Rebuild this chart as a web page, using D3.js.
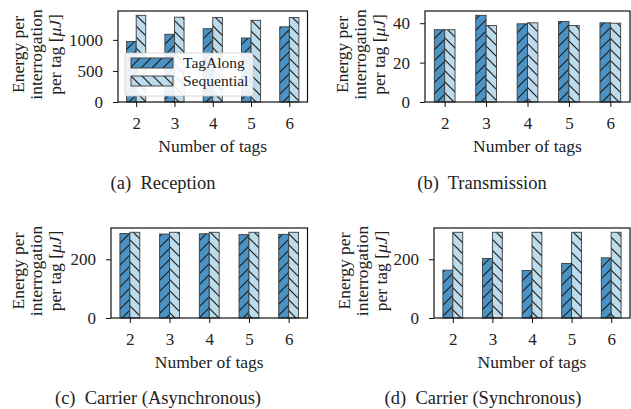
<!DOCTYPE html>
<html><head><meta charset="utf-8">
<script src="https://cdn.jsdelivr.net/npm/d3@7"></script>
<style>
html,body{margin:0;padding:0;background:#fff;}
svg{display:block;}
text{font-family:"Liberation Serif",serif;fill:#222;}
</style></head>
<body>
<svg id="chart" width="631" height="409"></svg>
<script>
const tags = [2, 3, 4, 5, 6];
const seriesNames = ["TagAlong", "Sequential"];
// (a) Reception
const receptionTagAlong   = [975, 1090, 1180, 1030, 1210];
const receptionSequential = [1395, 1365, 1360, 1315, 1360];
// (b) Transmission
const transmissionTagAlong   = [36.7, 44.0, 39.7, 40.9, 40.2];
const transmissionSequential = [36.7, 38.8, 40.2, 38.8, 40.0];
// (c) Carrier (Asynchronous)
const asyncTagAlong   = [288, 286, 287, 284, 285];
const asyncSequential = [292, 292, 292, 292, 292];
// (d) Carrier (Synchronous)
const syncTagAlong   = [163, 203, 162, 186, 205];
const syncSequential = [292, 292, 292, 292, 292];
// tick labels
const ticksA = [0, 500, 1000];
const ticksB = [0, 20, 40];
const ticksC = [0, 200];
const ticksD = [0, 200];
const captions = ["(a)  Reception", "(b)  Transmission", "(c)  Carrier (Asynchronous)", "(d)  Carrier (Synchronous)"];
const xLabel = "Number of tags";
const yLabelLines = [["Energy per"], ["interrogation"], ["per tag [", "\u03bcJ", "]"]];

const colors = ["#4a93c4", "#bcdcec"];

const svg = d3.select("#chart");
const defs = svg.append("defs");
function hatch(id, color, dir) {
  const s = 11;
  const p = defs.append("pattern").attr("id", id).attr("patternUnits", "userSpaceOnUse")
    .attr("width", s).attr("height", s);
  p.append("rect").attr("width", s).attr("height", s).attr("fill", color);
  const g = p.append("g").attr("stroke", "#1e1e1e").attr("stroke-width", 1.2);
  if (dir > 0) {
    g.append("line").attr("x1", 0).attr("y1", s).attr("x2", s).attr("y2", 0);
    g.append("line").attr("x1", -s/2).attr("y1", s/2).attr("x2", s/2).attr("y2", -s/2);
    g.append("line").attr("x1", s/2).attr("y1", s*1.5).attr("x2", s*1.5).attr("y2", s/2);
  } else {
    g.append("line").attr("x1", 0).attr("y1", 0).attr("x2", s).attr("y2", s);
    g.append("line").attr("x1", -s/2).attr("y1", s/2).attr("x2", s/2).attr("y2", s*1.5);
    g.append("line").attr("x1", s/2).attr("y1", -s/2).attr("x2", s*1.5).attr("y2", s/2);
  }
}
hatch("h0", colors[0], 1);
hatch("h1", colors[1], -1);

const panels = [
  {ta: receptionTagAlong, sq: receptionSequential, ticks: ticksA, box: [118, 307.5, 11, 102], ylx: 36, cap: [163, 189], legend: true},
  {ta: transmissionTagAlong, sq: transmissionSequential, ticks: ticksB, box: [425, 630, 11, 102], ylx: 360, cap: [482, 189]},
  {ta: asyncTagAlong, sq: asyncSequential, ticks: ticksC, box: [111, 307.5, 228, 318], ylx: 36, cap: [158, 404]},
  {ta: syncTagAlong, sq: syncSequential, ticks: ticksD, box: [434, 630, 228, 318], ylx: 362, cap: [483, 404]},
];
const bw = 0.25;

panels.forEach((P, i) => {
  const [L, R, T, B] = P.box;
  const x = d3.scaleLinear().domain([tags[0] - bw - 0.225, tags[tags.length-1] + bw + 0.225]).range([L, R]);
  const ymax = d3.max(P.ta.concat(P.sq)) * 1.05;
  const y = d3.scaleLinear().domain([0, ymax]).range([B, T]);
  const g = svg.append("g");

  const bars = [];
  tags.forEach((t, k) => {
    bars.push({x0: t - bw, v: P.ta[k], s: 0});
    bars.push({x0: t, v: P.sq[k], s: 1});
  });
  g.selectAll("rect.bar").data(bars).join("rect").attr("class", "bar")
    .attr("x", d => x(d.x0)).attr("width", d => x(d.x0 + bw) - x(d.x0))
    .attr("y", d => y(d.v)).attr("height", d => y(0) - y(d.v))
    .attr("fill", d => `url(#h${d.s})`).attr("stroke", "#3a3a3a").attr("stroke-width", 0.9);

  // frame
  g.append("rect").attr("x", L).attr("y", T).attr("width", R - L).attr("height", B - T)
    .attr("fill", "none").attr("stroke", "#111").attr("stroke-width", 1.2);

  const xa = g.append("g").attr("transform", `translate(0,${B})`)
    .call(d3.axisBottom(x).tickValues(tags).tickSize(5).tickPadding(10).tickFormat(d3.format("d")));
  const ya = g.append("g").attr("transform", `translate(${L},0)`)
    .call(d3.axisLeft(y).tickValues(P.ticks).tickSize(5).tickPadding(10).tickFormat(d3.format("d")));
  [xa, ya].forEach(a => {
    a.select(".domain").remove();
    a.selectAll(".tick line").attr("stroke", "#111").attr("stroke-width", 1);
    a.selectAll(".tick text").attr("font-family", "Liberation Serif").attr("font-size", 17).attr("fill", "#222");
  });

  g.append("text").attr("x", (L + R) / 2).attr("y", B + 49.5).attr("text-anchor", "middle")
    .attr("font-size", 17.5).text(xLabel);

  const yl = g.append("text").attr("transform", `translate(${P.ylx},${(T + B) / 2 - 2}) rotate(-90)`)
    .attr("text-anchor", "middle").attr("font-size", 17.5);
  yLabelLines.forEach((parts, j) => {
    const line = yl.append("tspan").attr("x", 0).attr("y", (j - 1) * 18.5 + 6);
    line.text(parts[0]);
    if (parts.length > 1) {
      yl.append("tspan").attr("font-style", "italic").text(parts[1]);
      yl.append("tspan").text(parts[2]);
    }
  });

  g.append("text").attr("x", P.cap[0]).attr("y", P.cap[1]).attr("text-anchor", "middle")
    .attr("font-size", 18.5).style("white-space", "pre").attr("xml:space", "preserve").text(captions[i]);

  if (P.legend) {
    const lg = g.append("g");
    lg.append("rect").attr("x", 125).attr("y", 53).attr("width", 128).attr("height", 43).attr("rx", 2)
      .attr("fill", "#fff").attr("fill-opacity", 0.9).attr("stroke", "#ccc").attr("stroke-width", 0.8);
    seriesNames.forEach((n, j) => {
      const yy = 58 + j * 18;
      lg.append("rect").attr("x", 131).attr("y", yy).attr("width", 42).attr("height", 10)
        .attr("fill", `url(#h${j})`).attr("stroke", "#3a3a3a").attr("stroke-width", 0.9);
      lg.append("text").attr("x", 183).attr("y", yy + 10).attr("font-size", 15.5).text(n);
    });
  }
});
</script>
</body></html>
